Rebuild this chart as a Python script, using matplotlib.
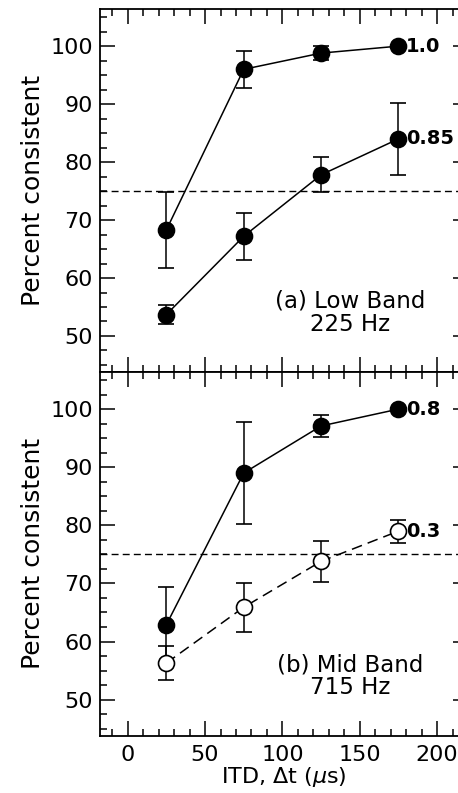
import numpy as np
from matplotlib import pyplot as plt
from matplotlib.ticker import MultipleLocator

itd = [25, 75, 125, 175]

# (a) low band, 225 Hz
low_hi = [68.3, 96.0, 98.8, 100.0]
low_hi_err = [6.6, 3.2, 1.2, 0.0]
low_lo = [53.7, 67.2, 77.8, 84.0]
low_lo_err = [1.7, 4.1, 3.0, 6.2]

# (b) mid band, 715 Hz
mid_hi = [62.9, 89.0, 97.1, 100.0]
mid_hi_err = [6.5, 8.7, 1.9, 0.0]
mid_lo = [56.3, 65.9, 73.8, 79.0]
mid_lo_err = [3.0, 4.2, 3.5, 2.0]

labels_a = ['1.0', '0.85']
labels_b = ['0.8', '0.3']

plt.rcParams['font.family'] = 'DejaVu Sans'

fig = plt.figure(figsize=(4.58, 7.93), dpi=100)
ax1 = fig.add_axes([0.218, 0.531, 0.804, 0.4576])
ax2 = fig.add_axes([0.218, 0.0723, 0.804, 0.4587])


def style_axis(ax, show_xlabels):
    ax.set_xlim(-18, 220)
    ax.set_ylim(43.8, 106.4)
    ax.xaxis.set_major_locator(MultipleLocator(50))
    ax.xaxis.set_minor_locator(MultipleLocator(10))
    ax.yaxis.set_major_locator(MultipleLocator(10))
    ax.yaxis.set_minor_locator(MultipleLocator(2.5))
    ax.set_yticks([50, 60, 70, 80, 90, 100])
    ax.tick_params(which='major', direction='in', length=11, width=1.1,
                   top=True, right=True, labelsize=16)
    ax.tick_params(which='minor', direction='in', length=5, width=1.1,
                   top=True, right=False)
    ax.tick_params(axis='y', which='minor', right=False)
    ax.tick_params(axis='y', pad=5)
    if not show_xlabels:
        ax.tick_params(axis='x', labelbottom=False)
    ax.tick_params(axis='x', pad=7)
    for s in ax.spines.values():
        s.set_linewidth(1.3)
    ax.axhline(75, color='black', lw=1.0, ls=(0, (5, 3)))
    ax.set_ylabel('Percent consistent', fontsize=18, labelpad=4)


def draw_series(ax, y, err, filled, dashed, label):
    ax.errorbar(itd, y, yerr=err, color='black', lw=1.1,
                ls=(0, (7, 4)) if dashed else '-',
                marker='o', ms=11.5,
                mfc='black' if filled else 'white', mec='black', mew=1.2,
                capsize=6, capthick=1.1, elinewidth=1.1, zorder=3)
    ax.text(itd[-1] + 5, y[-1], label, fontsize=14, fontweight='bold',
            va='center', ha='left')


style_axis(ax1, False)
draw_series(ax1, low_hi, low_hi_err, True, False, labels_a[0])
draw_series(ax1, low_lo, low_lo_err, True, False, labels_a[1])
ax1.text(144, 54.0, '(a) Low Band\n225 Hz', fontsize=16.5, ha='center',
         va='center', linespacing=1.0)

style_axis(ax2, True)
draw_series(ax2, mid_lo, mid_lo_err, False, True, labels_b[1])
draw_series(ax2, mid_hi, mid_hi_err, True, False, labels_b[0])
ax2.text(144, 54.0, '(b) Mid Band\n715 Hz', fontsize=16.5, ha='center',
         va='center', linespacing=1.0)
ax2.set_xlabel('ITD, $\\Delta$t ($\\mu$s)', fontsize=16, labelpad=0)

fig.savefig('out.png', dpi=100)
